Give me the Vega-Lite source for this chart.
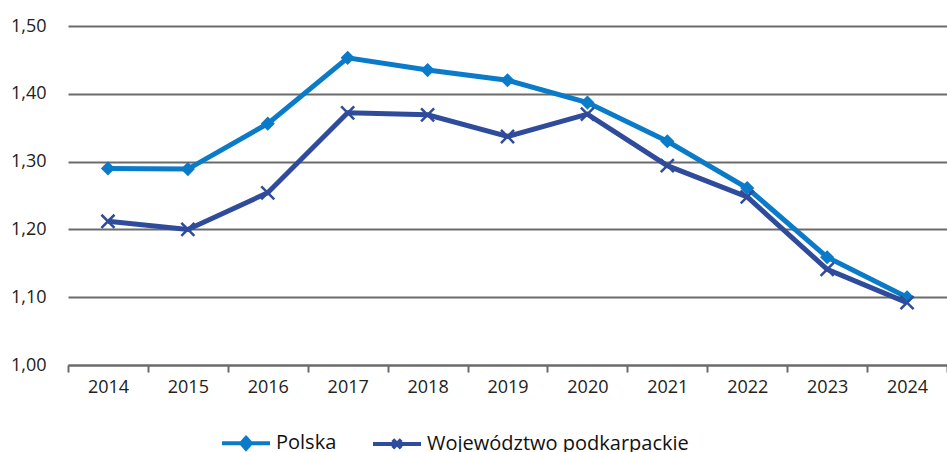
{
  "$schema": "https://vega.github.io/schema/vega-lite/v6.json",
  "autosize": {"type": "none"},
  "padding": {"left": 68, "top": 26, "right": 0, "bottom": 87},
  "width": 879,
  "height": 339,
  "background": "white",
  "config": {
    "view": {"stroke": null},
    "font": "Open Sans"
  },
  "data": {
    "values": [
      {"year": "2014", "series": "Polska", "value": 1.29},
      {"year": "2015", "series": "Polska", "value": 1.289},
      {"year": "2016", "series": "Polska", "value": 1.356},
      {"year": "2017", "series": "Polska", "value": 1.453},
      {"year": "2018", "series": "Polska", "value": 1.435},
      {"year": "2019", "series": "Polska", "value": 1.42},
      {"year": "2020", "series": "Polska", "value": 1.387},
      {"year": "2021", "series": "Polska", "value": 1.33},
      {"year": "2022", "series": "Polska", "value": 1.261},
      {"year": "2023", "series": "Polska", "value": 1.159},
      {"year": "2024", "series": "Polska", "value": 1.1},
      {"year": "2014", "series": "Województwo podkarpackie", "value": 1.212},
      {"year": "2015", "series": "Województwo podkarpackie", "value": 1.2},
      {"year": "2016", "series": "Województwo podkarpackie", "value": 1.254},
      {"year": "2017", "series": "Województwo podkarpackie", "value": 1.372},
      {"year": "2018", "series": "Województwo podkarpackie", "value": 1.369},
      {"year": "2019", "series": "Województwo podkarpackie", "value": 1.337},
      {"year": "2020", "series": "Województwo podkarpackie", "value": 1.37},
      {"year": "2021", "series": "Województwo podkarpackie", "value": 1.294},
      {"year": "2022", "series": "Województwo podkarpackie", "value": 1.248},
      {"year": "2023", "series": "Województwo podkarpackie", "value": 1.141},
      {"year": "2024", "series": "Województwo podkarpackie", "value": 1.092}
    ]
  },
  "encoding": {
    "x": {
      "field": "year", "type": "ordinal", "title": null,
      "scale": {"paddingInner": 0, "paddingOuter": 0},
      "axis": {
        "labelAngle": 0, "labelPadding": 6, "tickBand": "extent",
        "tickSize": 7, "tickWidth": 2, "tickColor": "#6b6b6b",
        "domainColor": "#6b6b6b", "domainWidth": 2, "grid": false,
        "labelFont": "Open Sans", "labelFontSize": 18, "labelColor": "#222222"
      }
    },
    "y": {
      "field": "value", "type": "quantitative", "title": null,
      "scale": {"domain": [1.0, 1.5], "nice": false, "zero": false},
      "axis": {
        "values": [1.0, 1.1, 1.2, 1.3, 1.4, 1.5],
        "labelExpr": "replace(format(datum.value, '.2f'), '.', ',')",
        "domain": false, "ticks": false, "labelPadding": 22,
        "grid": true, "gridColor": "#6b6b6b", "gridWidth": 2,
        "labelFont": "Open Sans", "labelFontSize": 18, "labelColor": "#222222"
      }
    },
    "color": {
      "field": "series", "type": "nominal",
      "scale": {"domain": ["Polska", "Województwo podkarpackie"], "range": ["#0a7bc8", "#2f4b9b"]}
    }
  },
  "layer": [
    {
      "mark": {"type": "line", "strokeWidth": 5},
      "encoding": {
        "color": {
          "field": "series", "type": "nominal",
          "legend": {
            "orient": "none", "legendX": 164, "legendY": 403,
            "direction": "horizontal", "title": null,
            "labelFontSize": 20, "labelFont": "Open Sans", "labelColor": "#111111", "labelLimit": 400,
            "symbolSize": 576, "symbolStrokeWidth": 5, "columnPadding": 28, "labelOffset": 16,
            "encode": {
              "symbols": {
                "update": {
                  "shape": {"signal": "datum.value === 'Polska' ? 'M-2,0L2,0M0,-0.45L0.4,0L0,0.45L-0.4,0Z' : 'M-2,0L2,0M-0.35,-0.35L0.35,0.35M-0.35,0.35L0.35,-0.35'"},
                  "fill": {"scale": "color", "field": "value"},
                  "stroke": {"scale": "color", "field": "value"},
                  "strokeWidth": {"value": 4}
                }
              }
            }
          }
        }
      }
    },
    {
      "transform": [{"filter": "datum.series === 'Polska'"}],
      "mark": {"type": "point", "shape": "diamond", "filled": true, "size": 200, "opacity": 1},
      "encoding": {"color": {"field": "series", "type": "nominal", "legend": null}}
    },
    {
      "transform": [{"filter": "datum.series !== 'Polska'"}],
      "mark": {"type": "point", "shape": "M-1,-1L1,1M-1,1L1,-1", "filled": false, "size": 170, "strokeWidth": 2.5, "opacity": 1},
      "encoding": {"color": {"field": "series", "type": "nominal", "legend": null}}
    }
  ]
}
